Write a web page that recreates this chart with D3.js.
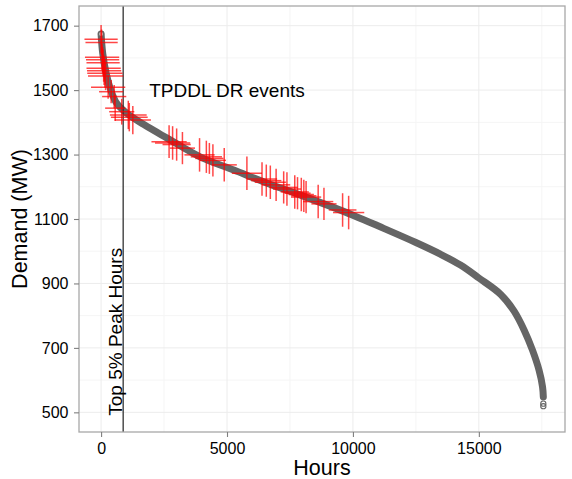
<!DOCTYPE html>
<html>
<head>
<meta charset="utf-8">
<script src="https://cdn.jsdelivr.net/npm/d3@7"></script>
<style>
  body { margin: 0; background: #fff; }
  svg { display: block; font-family: "Liberation Sans", Arial, sans-serif; }
</style>
</head>
<body>
<svg id="chart" width="572" height="479"></svg>
<script>
// load duration curve (hours sorted by demand)
let curve_hours  = [0, 65, 200, 385, 620, 1020, 1700, 2620, 3950, 5270, 6600, 7920,
                    10000, 11220, 12500, 13470, 14270, 15000, 15870, 16400, 16800,
                    17130, 17390, 17530, 17560]
let curve_demand = [1674, 1614, 1552, 1500, 1459, 1428, 1393, 1351, 1292, 1252, 1211, 1174,
                    1112, 1071, 1027, 991, 957, 917, 866, 814, 755,
                    693, 631, 579, 548]
let tail_hours  = [17560, 17560]
let tail_demand = [527, 519]

// TPDDL DR events: position on the curve and spread in hours / MW
let event_hours  = [0, 20, 40, 60, 80, 100, 120, 150, 180, 280, 400, 520, 560, 820, 1080, 1120, 1260,
                    2700, 2840, 3000, 3230, 3910, 4180, 4300, 4440, 4890, 5790, 6390, 6560, 6720,
                    6950, 7250, 7380, 7690, 7800, 7950, 8050, 8140, 8620, 8850, 9590, 9830]
let event_demand = [1658, 1648, 1602, 1594, 1585, 1568, 1560, 1552, 1544, 1509, 1495, 1480, 1444, 1433, 1423, 1416, 1407,
                    1340, 1336, 1331, 1320, 1299, 1293, 1288, 1282, 1268, 1242, 1224, 1219, 1214,
                    1206, 1198, 1193, 1184, 1180, 1176, 1172, 1168, 1154, 1147, 1128, 1120]
let event_hour_spread   = [660, 640, 680, 660, 660, 680, 680, 700, 700, 680, 480, 480, 400, 500, 730, 730, 720,
                           700, 700, 560, 500, 600, 620, 560, 520, 500, 600, 600, 600, 620,
                           560, 560, 560, 560, 520, 500, 500, 600, 600, 500, 550, 620]
let event_demand_spread = [44, 40, 40, 40, 42, 42, 44, 44, 44, 36, 36, 36, 40, 40, 44, 44, 44,
                           51, 52, 50, 50, 52, 50, 48, 50, 52, 52, 52, 50, 52,
                           50, 50, 52, 52, 50, 52, 50, 50, 52, 50, 52, 52]

let peak_hour = 877  // top 5% of 17544 hours

let x_ticks = [0, 5000, 10000, 15000]
let x_minor = [2500, 7500, 12500, 17500]
let y_ticks = [500, 700, 900, 1100, 1300, 1500, 1700]
let y_minor = [600, 800, 1000, 1200, 1400, 1600]

let panel = { left: 79, right: 565, top: 6, bottom: 432 }

function make_scales() {
  let x = d3.scaleLinear().domain([-877, 18421]).range([panel.left, panel.right])
  let y = d3.scaleLinear().domain([439, 1761]).range([panel.bottom, panel.top])
  return { x, y }
}

function draw_grid(svg, s) {
  let g = svg.append("g")
  g.selectAll("line.xminor").data(x_minor).enter().append("line")
    .attr("x1", d => s.x(d)).attr("x2", d => s.x(d))
    .attr("y1", panel.top).attr("y2", panel.bottom)
    .attr("stroke", "#f5f5f5")
  g.selectAll("line.yminor").data(y_minor).enter().append("line")
    .attr("y1", d => s.y(d)).attr("y2", d => s.y(d))
    .attr("x1", panel.left).attr("x2", panel.right)
    .attr("stroke", "#f5f5f5")
  g.selectAll("line.xmajor").data(x_ticks).enter().append("line")
    .attr("x1", d => s.x(d)).attr("x2", d => s.x(d))
    .attr("y1", panel.top).attr("y2", panel.bottom)
    .attr("stroke", "#ececec")
  g.selectAll("line.ymajor").data(y_ticks).enter().append("line")
    .attr("y1", d => s.y(d)).attr("y2", d => s.y(d))
    .attr("x1", panel.left).attr("x2", panel.right)
    .attr("stroke", "#ececec")
}

function draw_curve(svg, s) {
  let pts = curve_hours.map((h, i) => [h, curve_demand[i]])
  let line = d3.line().x(d => s.x(d[0])).y(d => s.y(d[1])).curve(d3.curveCatmullRom.alpha(0.5))

  svg.append("path")
    .attr("d", line(pts))
    .attr("fill", "none")
    .attr("stroke", "#656565")
    .attr("stroke-width", 7)
    .attr("stroke-linecap", "round")

  // open circles at the ends of the curve
  let ends = [[curve_hours[0], curve_demand[0]]].concat(tail_hours.map((h, i) => [h, tail_demand[i]]))
  svg.append("g").selectAll("circle")
    .data(ends).enter()
    .append("circle")
    .attr("cx", d => s.x(d[0]))
    .attr("cy", d => s.y(d[1]))
    .attr("r", 2.6)
    .attr("fill", "#fff")
    .attr("fill-opacity", (d, i) => i == 0 ? 0.6 : 0)
    .attr("stroke", "#656565")
    .attr("stroke-width", 1.1)
}

function draw_events(svg, s) {
  let events = event_hours.map((h, i) => ({
    h: h, d: event_demand[i], dh: event_hour_spread[i], dd: event_demand_spread[i]
  }))
  let g = svg.append("g")
    .attr("stroke", "red")
    .attr("stroke-width", 1.5)
    .attr("stroke-opacity", 0.72)

  g.selectAll("line.h").data(events).enter().append("line")
    .attr("x1", d => s.x(d.h - d.dh)).attr("x2", d => s.x(d.h + d.dh))
    .attr("y1", d => s.y(d.d)).attr("y2", d => s.y(d.d))
  g.selectAll("line.v").data(events).enter().append("line")
    .attr("x1", d => s.x(d.h)).attr("x2", d => s.x(d.h))
    .attr("y1", d => s.y(d.d - d.dd)).attr("y2", d => s.y(d.d + d.dd))
}

function draw_axes(svg, s) {
  let xa = svg.append("g")
    .attr("transform", `translate(0,${panel.bottom})`)
    .call(d3.axisBottom(s.x).tickValues(x_ticks).tickFormat(d3.format("d")).tickSize(5).tickPadding(6))
  let ya = svg.append("g")
    .attr("transform", `translate(${panel.left},0)`)
    .call(d3.axisLeft(s.y).tickValues(y_ticks).tickFormat(d3.format("d")).tickSize(5).tickPadding(5.5))

  for (let a of [xa, ya]) {
    a.select(".domain").remove()
    a.selectAll(".tick line").attr("stroke", "#7f7f7f").attr("stroke-width", 1.1)
    a.selectAll(".tick text")
      .attr("fill", "#000")
      .style("font-size", "16px")
      .style("font-family", "'Liberation Sans', Arial, sans-serif")
  }

  svg.append("text")
    .attr("x", (panel.left + panel.right) / 2).attr("y", 475)
    .attr("text-anchor", "middle")
    .style("font-size", "21.5px")
    .text("Hours")

  svg.append("text")
    .attr("transform", `translate(26.7,${(panel.top + panel.bottom) / 2}) rotate(-90)`)
    .attr("text-anchor", "middle")
    .style("font-size", "21.5px")
    .text("Demand (MW)")
}

function visualize() {
  let svg = d3.select("#chart")
  let s = make_scales()

  svg.append("rect")
    .attr("x", panel.left).attr("y", panel.top)
    .attr("width", panel.right - panel.left).attr("height", panel.bottom - panel.top)
    .attr("fill", "#fff")

  draw_grid(svg, s)
  draw_curve(svg, s)

  svg.append("line")
    .attr("x1", s.x(peak_hour)).attr("x2", s.x(peak_hour))
    .attr("y1", panel.top).attr("y2", panel.bottom)
    .attr("stroke", "#333")
    .attr("stroke-width", 1.3)

  draw_events(svg, s)

  svg.append("text")
    .attr("x", s.x(5000)).attr("y", s.y(1500) + 6.6)
    .attr("text-anchor", "middle")
    .style("font-size", "19px")
    .text("TPDDL DR events")

  svg.append("text")
    .attr("transform", `translate(${s.x(peak_hour) - 1.5},${s.y(750)}) rotate(-90)`)
    .attr("text-anchor", "middle")
    .style("font-size", "19px")
    .text("Top 5% Peak Hours")

  svg.append("rect")
    .attr("x", panel.left).attr("y", panel.top)
    .attr("width", panel.right - panel.left).attr("height", panel.bottom - panel.top)
    .attr("fill", "none")
    .attr("stroke", "#a8a8a8")
    .attr("stroke-width", 1.3)

  draw_axes(svg, s)
}

visualize()
</script>
</body>
</html>
